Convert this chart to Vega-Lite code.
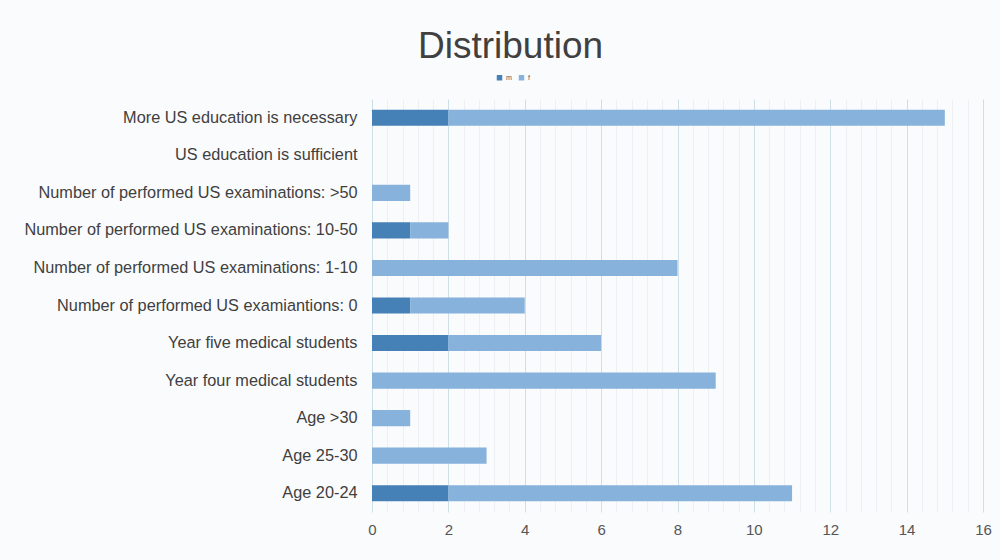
{
  "$schema": "https://vega.github.io/schema/vega-lite/v6.json",
  "width": 611,
  "height": 413,
  "autosize": {"type": "none"},
  "padding": {"left": 372, "top": 99, "right": 17, "bottom": 48},
  "background": "#fafbfd",
  "title": {"text": "Distribution", "fontSize": 37, "font": "Liberation Sans", "fontWeight": "normal", "color": "#404040", "anchor": "middle", "dx": -167, "offset": 8},
  "data": {"values": [
    {"cat": "More US education is necessary", "sex": "m", "n": 2},
    {"cat": "More US education is necessary", "sex": "f", "n": 13},
    {"cat": "US education is sufficient", "sex": "m", "n": 0},
    {"cat": "US education is sufficient", "sex": "f", "n": 0},
    {"cat": "Number of performed US examinations: >50", "sex": "m", "n": 0},
    {"cat": "Number of performed US examinations: >50", "sex": "f", "n": 1},
    {"cat": "Number of performed US examinations: 10-50", "sex": "m", "n": 1},
    {"cat": "Number of performed US examinations: 10-50", "sex": "f", "n": 1},
    {"cat": "Number of performed US examinations: 1-10", "sex": "m", "n": 0},
    {"cat": "Number of performed US examinations: 1-10", "sex": "f", "n": 8},
    {"cat": "Number of performed US examiantions: 0", "sex": "m", "n": 1},
    {"cat": "Number of performed US examiantions: 0", "sex": "f", "n": 3},
    {"cat": "Year five medical students", "sex": "m", "n": 2},
    {"cat": "Year five medical students", "sex": "f", "n": 4},
    {"cat": "Year four medical students", "sex": "m", "n": 0},
    {"cat": "Year four medical students", "sex": "f", "n": 9},
    {"cat": "Age >30", "sex": "m", "n": 0},
    {"cat": "Age >30", "sex": "f", "n": 1},
    {"cat": "Age 25-30", "sex": "m", "n": 0},
    {"cat": "Age 25-30", "sex": "f", "n": 3},
    {"cat": "Age 20-24", "sex": "m", "n": 2},
    {"cat": "Age 20-24", "sex": "f", "n": 9}
  ]},
  "mark": {"type": "bar"},
  "encoding": {
    "y": {"field": "cat", "type": "nominal", "sort": null,
      "scale": {"paddingInner": 0.57, "paddingOuter": 0.285},
      "axis": {"title": null, "domain": false, "ticks": false, "labelPadding": 15, "labelFontSize": 16.3, "labelFont": "Liberation Sans", "labelColor": "#404040", "labelLimit": 400}},
    "x": {"field": "n", "type": "quantitative", "stack": "zero",
      "scale": {"domain": [0, 16], "nice": false},
      "axis": {"title": null, "domain": false, "ticks": false, "labelPadding": 10, "labelFontSize": 15, "labelFont": "Liberation Sans", "labelColor": "#555555", "labelOverlap": false, "labelFlush": false,
        "values": [0,0.4,0.8,1.2,1.6,2,2.4,2.8,3.2,3.6,4,4.4,4.8,5.2,5.6,6,6.4,6.8,7.2,7.6,8,8.4,8.8,9.2,9.6,10,10.4,10.8,11.2,11.6,12,12.4,12.8,13.2,13.6,14,14.4,14.8,15.2,15.6,16],
        "labelExpr": "datum.value % 2 == 0 ? format(datum.value, 'd') : ''",
        "gridColor": {"condition": {"test": "datum.value % 2 == 0", "value": "#cfdfe7"}, "value": "#edf0f3"},
        "gridWidth": 1}},
    "color": {"field": "sex", "type": "nominal",
      "scale": {"domain": ["m", "f"], "range": ["#4581b6", "#86b2dc"]},
      "legend": {"title": null, "orient": "none", "legendX": 124, "legendY": -25, "direction": "horizontal", "symbolType": "square", "symbolSize": 30, "labelFontSize": 7, "labelColor": "#555555", "columnPadding": 6, "labelOffset": 3}},
    "order": {"field": "sex", "sort": "descending"}
  },
  "config": {"view": {"stroke": null}}
}
